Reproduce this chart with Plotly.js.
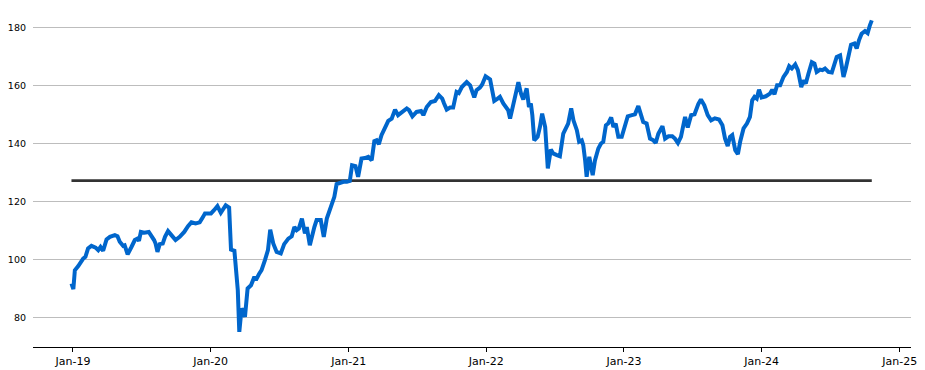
<!DOCTYPE html>
<html>
<head>
<meta charset="utf-8">
<script src="https://cdn.plot.ly/plotly-3.0.1.min.js"></script>
<style>
  html, body { margin: 0; padding: 0; background: #fff; }
  #chart { width: 925px; height: 370px; }
</style>
</head>
<body>
<div id="chart"></div>
<script>
// Weekly index level
const dates = [
  '2018-12-28','2019-01-02','2019-01-06','2019-01-15','2019-01-28','2019-02-03','2019-02-10','2019-02-19','2019-03-02','2019-03-09',
  '2019-03-15','2019-03-22','2019-03-31','2019-04-09','2019-04-22','2019-04-29','2019-05-05','2019-05-14','2019-05-18','2019-05-26',
  '2019-06-05','2019-06-14','2019-06-21','2019-06-25','2019-06-30','2019-07-09','2019-07-21','2019-07-27','2019-08-04','2019-08-08',
  '2019-08-13','2019-08-19','2019-08-27','2019-09-02','2019-09-10','2019-09-19','2019-09-30','2019-10-11','2019-10-23','2019-11-02',
  '2019-11-11','2019-11-22','2019-12-03','2019-12-12','2019-12-17','2019-12-21',
  '2020-01-02','2020-01-10','2020-01-19','2020-01-28','2020-02-03','2020-02-10','2020-02-19','2020-02-24','2020-03-04','2020-03-13',
  '2020-03-17','2020-03-23','2020-03-28','2020-04-01','2020-04-08','2020-04-17','2020-04-26','2020-04-30','2020-05-08','2020-05-15',
  '2020-05-24','2020-06-01','2020-06-07','2020-06-15','2020-06-24','2020-07-05','2020-07-14','2020-07-25','2020-08-03','2020-08-10',
  '2020-08-16','2020-08-22','2020-08-30','2020-09-03','2020-09-07','2020-09-12','2020-09-20','2020-10-02','2020-10-08','2020-10-19',
  '2020-10-27','2020-11-04','2020-11-12','2020-11-24','2020-11-30','2020-12-09','2020-12-18','2020-12-27',
  '2021-01-04','2021-01-10','2021-01-19','2021-01-26','2021-02-04','2021-02-13','2021-02-22','2021-03-03','2021-03-10','2021-03-16',
  '2021-03-22','2021-03-29','2021-04-07','2021-04-16','2021-04-25','2021-05-04','2021-05-12','2021-05-23','2021-06-04','2021-06-10',
  '2021-06-19','2021-06-30','2021-07-12','2021-07-18','2021-07-27','2021-08-07','2021-08-18','2021-08-28','2021-09-06','2021-09-11',
  '2021-09-18','2021-09-27','2021-10-05','2021-10-14','2021-10-20','2021-10-28','2021-11-04','2021-11-10','2021-11-19','2021-11-30',
  '2021-12-06','2021-12-15','2021-12-21','2021-12-30',
  '2022-01-11','2022-01-22','2022-01-31','2022-02-06','2022-02-15','2022-02-24','2022-02-28','2022-03-05','2022-03-13','2022-03-20',
  '2022-03-27','2022-04-03','2022-04-09','2022-04-18','2022-04-24','2022-04-29','2022-05-03','2022-05-08','2022-05-17','2022-05-23',
  '2022-05-29','2022-06-06','2022-06-13','2022-06-21','2022-06-27','2022-07-07','2022-07-15','2022-07-24','2022-08-02','2022-08-06',
  '2022-08-14','2022-08-20','2022-08-29','2022-09-04','2022-09-11','2022-09-15','2022-09-20','2022-09-24','2022-10-01','2022-10-10',
  '2022-10-16','2022-10-25','2022-11-01','2022-11-07','2022-11-14','2022-11-20','2022-11-28','2022-12-04','2022-12-10','2022-12-17',
  '2022-12-26',
  '2023-01-04','2023-01-11','2023-01-22','2023-01-30','2023-02-08','2023-02-15','2023-02-21','2023-03-02','2023-03-11','2023-03-20',
  '2023-03-26','2023-04-02','2023-04-13','2023-04-20','2023-04-29','2023-05-09','2023-05-16','2023-05-24','2023-06-01','2023-06-12',
  '2023-06-19','2023-06-28','2023-07-07','2023-07-17','2023-07-24','2023-08-02','2023-08-11','2023-08-20','2023-08-30','2023-09-10',
  '2023-09-19','2023-09-26','2023-10-03','2023-10-09','2023-10-15','2023-10-23','2023-10-30','2023-11-05','2023-11-14','2023-11-23',
  '2023-12-01','2023-12-07','2023-12-13','2023-12-19','2023-12-25',
  '2024-01-01','2024-01-12','2024-01-23','2024-01-29','2024-02-04','2024-02-11','2024-02-19','2024-02-28','2024-03-08','2024-03-14',
  '2024-03-21','2024-03-30','2024-04-06','2024-04-15','2024-04-21','2024-04-27','2024-05-04','2024-05-13','2024-05-20','2024-05-26',
  '2024-06-04','2024-06-10','2024-06-17','2024-06-26','2024-07-05','2024-07-12','2024-07-18','2024-07-27','2024-08-01','2024-08-05',
  '2024-08-11','2024-08-18','2024-08-25','2024-09-03','2024-09-09','2024-09-15','2024-09-22','2024-10-01','2024-10-08','2024-10-14',
  '2024-10-19'
];
const values = [
  91.7,89.8,96.3,97.7,100.3,100.9,103.8,104.7,104.1,103.2,
  104.3,103.0,106.9,107.8,108.4,108.0,106.1,104.7,104.9,101.8,
  104.3,106.7,107.2,106.4,109.5,109.2,109.5,108.4,106.7,105.5,
  102.6,105.3,105.5,107.8,109.8,108.4,106.7,107.8,109.5,111.5,
  112.8,112.4,112.8,114.7,115.9,115.9,
  115.9,117.0,118.4,116.1,117.6,118.7,117.9,103.4,103.0,89.4,
  75.0,83.1,81.9,80.2,90.0,91.1,94.0,92.9,94.9,96.3,
  99.8,103.2,110.3,105.5,102.6,102.1,105.3,107.2,108.0,111.2,
  110.1,110.7,114.1,111.2,109.0,111.2,104.9,111.2,113.6,113.6,
  107.8,114.1,117.0,121.6,126.0,126.4,126.8,126.8,
  127.1,132.5,132.2,128.5,134.8,135.0,135.4,134.2,140.8,141.1,
  139.8,142.9,145.7,147.8,148.6,151.7,149.8,150.9,152.1,151.5,
  149.4,150.9,151.2,149.8,152.6,154.3,154.7,156.7,155.5,153.8,
  151.7,152.4,152.4,157.8,157.4,159.5,160.7,161.2,160.1,155.9,
  158.4,159.3,160.4,163.2,
  162.1,154.7,155.5,156.1,153.8,152.1,151.5,148.6,153.2,158.4,
  161.2,157.2,155.2,159.0,152.6,153.8,149.8,141.1,142.3,145.7,
  150.3,145.7,131.4,137.9,136.6,136.0,135.6,143.4,146.3,146.9,
  152.1,148.0,144.6,140.6,141.1,139.4,134.2,128.5,135.4,129.1,
  134.2,138.3,140.0,140.6,146.3,146.9,149.0,145.7,146.9,142.3,
  142.3,
  146.3,149.4,149.8,150.1,152.9,150.3,147.4,146.9,141.7,141.1,
  140.2,143.4,146.0,141.7,142.5,142.5,141.7,140.2,142.3,149.2,
  145.5,149.8,150.1,153.6,155.2,153.2,149.8,148.0,148.7,148.3,
  146.3,141.7,139.1,142.3,142.9,137.7,136.3,140.6,145.2,146.9,
  149.2,154.9,156.1,155.5,158.6,
  155.9,156.3,157.2,158.6,157.0,160.1,160.1,163.0,164.7,166.7,
  165.9,167.3,165.3,159.5,161.8,160.7,164.1,168.1,167.6,164.7,
  165.5,165.3,165.9,164.7,164.5,167.6,169.9,170.4,166.4,163.0,
  165.9,170.4,174.1,174.5,172.8,175.6,177.9,178.8,178.1,180.8,
  182.5
];
// Reference level (horizontal line)
const avgLevel = 127.2;
const yTicks = [80, 100, 120, 140, 160, 180];

const traces = [
  {
    x: [dates[0], dates[dates.length - 1]],
    y: [avgLevel, avgLevel],
    type: 'scatter', mode: 'lines',
    line: { color: '#333333', width: 2.6 },
    hoverinfo: 'skip', showlegend: false
  },
  {
    x: dates, y: values,
    type: 'scatter', mode: 'lines',
    line: { color: '#0066CC', width: 4, shape: 'linear' },
    showlegend: false
  }
];

const layout = {
  width: 925, height: 370,
  margin: { l: 33, r: 14, t: 16, b: 23 },
  paper_bgcolor: '#ffffff', plot_bgcolor: '#ffffff',
  font: { family: 'DejaVu Sans, sans-serif', color: '#000000' },
  showlegend: false,
  xaxis: {
    type: 'date',
    range: ['2018-09-17', '2025-01-31'],
    tick0: '2019-01-01', dtick: 'M12',
    tickformat: '%b-%y',
    showgrid: false, zeroline: false,
    showline: true, linecolor: '#000000', linewidth: 1,
    ticks: 'outside', ticklen: 4, tickcolor: '#000000', tickwidth: 1,
    tickfont: { size: 11, family: 'DejaVu Sans, sans-serif', color: '#000000' }
  },
  yaxis: {
    range: [69.8, 184],
    tickvals: yTicks,
    showgrid: true, gridcolor: '#bdbdbd', gridwidth: 1,
    zeroline: false, showline: false, ticks: '',
    ticklabelstandoff: 6,
    tickfont: { size: 9.5, family: 'DejaVu Sans, sans-serif', color: '#000000' }
  }
};

Plotly.newPlot('chart', traces, layout, { displayModeBar: false, staticPlot: true });
</script>
</body>
</html>
